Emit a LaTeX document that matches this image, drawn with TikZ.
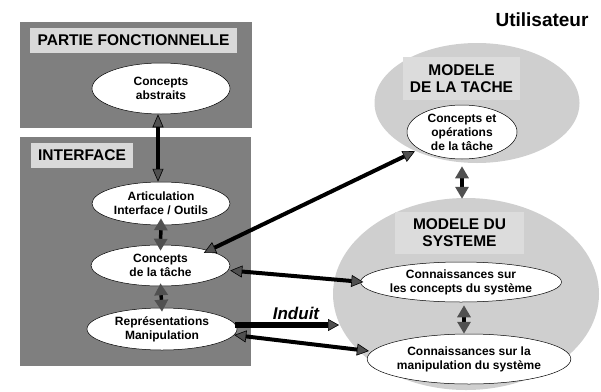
\documentclass[tikz,border=0pt]{standalone}
\usepackage{fontspec}
\setmainfont{Liberation Sans}
\usetikzlibrary{shapes.geometric,arrows.meta}
\definecolor{panelgray}{HTML}{7F7F7F}
\definecolor{taggray}{HTML}{D9D9D9}
\definecolor{modelgray}{HTML}{CFCFCF}
\definecolor{modeltag}{HTML}{DCDCDC}
\definecolor{headgray}{HTML}{505050}
\begin{document}
\begin{tikzpicture}[x=1pt,y=-1pt,
  panel/.style={fill=panelgray, draw=none, inner sep=0pt},
  tag/.style={fill=taggray, draw=none, inner sep=0pt, align=center,
    font=\bfseries\fontsize{15.5}{17}\selectfont},
  mtag/.style={tag, fill=modeltag},
  model/.style={ellipse, fill=modelgray, draw=none, inner sep=0pt},
  concept/.style={ellipse, draw=black, line width=0.5pt, fill=white,
    inner sep=0pt, align=center, font=\bfseries\fontsize{12}{14}\selectfont},
  longlink/.style={draw=black, line width=4pt, {Triangle[length=12pt, width=12pt, fill=headgray, line width=0.6pt]}-{Triangle[length=12pt, width=12pt, fill=headgray, line width=0.6pt]}},
  shortlink/.style={draw=black, line width=3.5pt, {Triangle[length=12pt, width=13pt, color=headgray]}-{Triangle[length=12pt, width=13pt, color=headgray]}},
  induit/.style={draw=black, line width=6pt, -{Triangle[length=11pt, width=12pt, fill=headgray, line width=0.6pt]}}
]
\useasboundingbox (0,0) rectangle (601,391);

% left column: functional part and interface panels
\node[panel, minimum width=232pt, minimum height=106pt] (pf) at (136,75) {};
\node[panel, minimum width=231pt, minimum height=229pt] (itf) at (135.5,251.5) {};
\node[tag, minimum width=207pt, minimum height=25pt] (pftag) at (133.5,40.5) {PARTIE FONCTIONNELLE};
\node[tag, minimum width=102pt, minimum height=25pt] (itftag) at (82,155.5) {INTERFACE};

\node[concept, minimum width=138pt, minimum height=51pt] (ca) at (161,88.5) {Concepts\\abstraits};
\node[concept, minimum width=138pt, minimum height=43pt] (art) at (161,203.5) {Articulation\\Interface / Outils};
\node[concept, minimum width=139pt, minimum height=41pt] (ct) at (160.5,265.5) {Concepts\\de la tâche};
\node[concept, minimum width=150pt, minimum height=42pt] (rm) at (162,329) {Représentations\\Manipulation};

% right column: user models
\node[font=\bfseries\fontsize{19}{21}\selectfont] (user) at (542,20) {Utilisateur};

\node[model, minimum width=205pt, minimum height=120pt] (bigT) at (477,103) {};
\node[mtag, minimum width=117pt, minimum height=43pt] (tagT) at (461.5,78.5) {MODELE\\DE LA TACHE};
\node[concept, minimum width=110pt, minimum height=54pt] (cot) at (462,132) {Concepts et\\opérations\\de la tâche};

\node[model, minimum width=266pt, minimum height=192pt] (bigS) at (466,294) {};
\node[mtag, minimum width=129pt, minimum height=42pt] (tagS) at (459.5,233) {MODELE DU\\SYSTEME};
\node[concept, minimum width=194pt, minimum height=40pt] (cc) at (461,282) {Connaissances sur\\les concepts du système};
\node[concept, minimum width=190pt, minimum height=50pt] (cm) at (469,359) {Connaissances sur la\\manipulation du système};

% vertical links
\draw[draw=black, line width=4.5pt, {Triangle[length=13pt, width=11pt, fill=headgray, line width=0.6pt]}-{Triangle[length=13pt, width=11pt, fill=headgray, line width=0.6pt]}]
  ([xshift=-3pt]ca.south) -- ([xshift=-3pt]art.north);
\draw[shortlink] ([yshift=7pt]art.south) -- ([yshift=-6pt]ct.north);
\draw[shortlink] ([yshift=3pt]ct.south) -- ([yshift=-4pt]rm.north);
\draw[shortlink] ([yshift=-7pt]cot.south) -- ([yshift=-1pt]cot.south |- bigS.north);
\draw[shortlink] ([shift={(3pt,-3pt)}]cc.south) -- ([xshift=3pt]cc.south |- cm.north);

% links between interface and user models
\draw[longlink] ([shift={(-6pt,-2pt)}]ct.north east) -- ([xshift=-8pt]cot.south west);
\draw[longlink] ([yshift=-5pt]ct.east) -- ([xshift=3pt]cc.west);
\draw[longlink] ([shift={(-3pt,-6pt)}]rm.east) -- ([xshift=2pt, yshift=8pt]cm.west);

\coordinate (induitEnd) at (339,325);
\draw[induit] ([shift={(-2pt,4pt)}]rm.east) -- (induitEnd);
\node[font=\bfseries\itshape\fontsize{17}{19}\selectfont] (induitLabel) at (296,313) {Induit};
\end{tikzpicture}
\end{document}
